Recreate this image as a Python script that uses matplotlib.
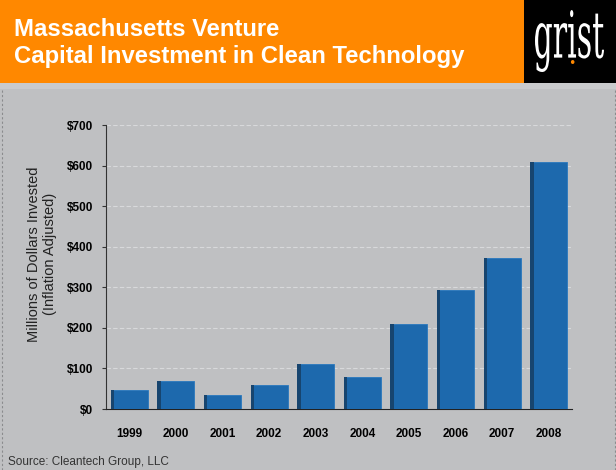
import numpy as np
import matplotlib.pyplot as plt
from matplotlib.patches import Rectangle, PathPatch
from matplotlib.textpath import TextPath
from matplotlib.font_manager import FontProperties
from matplotlib.transforms import Affine2D, IdentityTransform

# data
years = ['1999', '2000', '2001', '2002', '2003', '2004', '2005', '2006', '2007', '2008']
invested = [48, 70, 35, 60, 112, 80, 209, 293, 371, 608]
yticks = [0, 100, 200, 300, 400, 500, 600, 700]

bg = '#bfc0c2'
bar_col = '#1d69ad'
edge_col = '#17456f'
W, H = 616, 470

fig = plt.figure(figsize=(6.16, 4.70), dpi=100)
fig.patch.set_facecolor(bg)

# header band
fig.patches.append(Rectangle((0, 1 - 83/H), 524/W, 83/H, transform=fig.transFigure,
                             facecolor='#ff8800', edgecolor='none', zorder=0))
fig.patches.append(Rectangle((524/W, 1 - 83/H), 92/W, 83/H, transform=fig.transFigure,
                             facecolor='black', edgecolor='none', zorder=0))
fig.patches.append(Rectangle((0, 1 - 89/H), 1, 6/H, transform=fig.transFigure,
                             facecolor='#c9cacc', edgecolor='none', zorder=0))
fig.text(14/W, 1 - 36/H, 'Massachusetts Venture', color='white', fontsize=17.2,
         fontweight='bold', family='Liberation Sans', va='baseline', ha='left')
fig.text(14/W, 1 - 63/H, 'Capital Investment in Clean Technology', color='white', fontsize=17.2,
         fontweight='bold', family='Liberation Sans', va='baseline', ha='left')

# grist logo, squeezed into its box
tp = TextPath((0, 0), 'grist', size=10, prop=FontProperties(family='DejaVu Serif'))
ext = tp.get_extents()
tr = Affine2D().translate(-ext.x0, -ext.y0).scale(69/ext.width, 62/ext.height).translate(535, H - 72)
fig.add_artist(PathPatch(tr.transform_path(tp), transform=IdentityTransform(),
                         facecolor='white', lw=0))
fig.text(572/W, 1 - 63/H, '\u2022', color='#ff8800', fontsize=9, va='center', ha='center')

# dashed side borders
for xf in [1.5/W, 614.5/W]:
    fig.add_artist(plt.Line2D([xf, xf], [0, 1 - 89/H], transform=fig.transFigure,
                              color='#8a8b8d', lw=0.8, ls=(0, (2, 2))))

ax = fig.add_axes([106/W, 1 - 409/H, 466/W, 284/H])
ax.set_facecolor(bg)
x = np.arange(len(years))
ax.bar(x, invested, width=0.79, color=bar_col, edgecolor='#2a78bd', linewidth=0.6, zorder=3)
ax.bar(x - 0.79/2 + 0.035, invested, width=0.07, color=edge_col, linewidth=0, zorder=4)

ax.set_xlim(-0.5, 9.5)
ax.set_ylim(0, 700)
ax.set_yticks(yticks)
ax.set_yticklabels(['$' + str(v) for v in yticks], fontweight='bold', fontsize=8.5,
                   family='Liberation Sans')
ax.set_xticks(x)
ax.set_xticklabels(years, fontweight='bold', fontsize=8.5, family='Liberation Sans')
ax.tick_params(axis='x', length=0, pad=14)
ax.tick_params(axis='y', length=3, color='#333333', pad=6)
ax.grid(axis='y', color='#d8d9db', ls=(0, (4, 2)), lw=0.8, zorder=0)
for s in ['top', 'right']:
    ax.spines[s].set_visible(False)
ax.spines['left'].set_color('#333333')
ax.spines['bottom'].set_color('#222222')
ax.set_ylabel('Millions of Dollars Invested\n(Inflation Adjusted)', fontsize=10.5,
              family='Liberation Sans', color='#222222')
ax.yaxis.set_label_coords(-0.105, 0.546)

fig.text(8/W, 1 - 462/H, 'Source: Cleantech Group, LLC', fontsize=8.5,
         family='Liberation Sans', color='#333333', va='center')

fig.savefig('out.png', dpi=100, facecolor=fig.get_facecolor())
